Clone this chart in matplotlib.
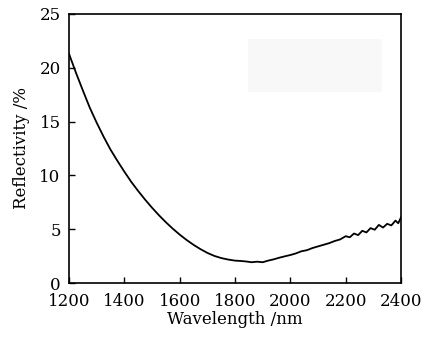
import matplotlib
matplotlib.use("Agg")
import matplotlib.pyplot as plt
from matplotlib.patches import Rectangle

# reflectivity spectrum
wavelength = [1200, 1225, 1250, 1275, 1300, 1325, 1350, 1375, 1400, 1425,
              1450, 1475, 1500, 1525, 1550, 1575, 1600, 1625, 1650, 1675,
              1700, 1725, 1750, 1775, 1800, 1820, 1840, 1860, 1880, 1900,
              1920, 1940, 1960, 1980, 2000, 2020, 2040, 2060, 2080, 2100,
              2120, 2140, 2160, 2180, 2200, 2215, 2230, 2245, 2260, 2275,
              2290, 2305, 2320, 2335, 2350, 2365, 2380, 2390, 2400]
reflectivity = [21.3, 19.55, 17.9, 16.3, 14.9, 13.6, 12.4, 11.35, 10.35, 9.4,
                8.55, 7.75, 7.0, 6.3, 5.65, 5.05, 4.5, 4.0, 3.55, 3.15,
                2.8, 2.52, 2.32, 2.18, 2.08, 2.05, 2.0, 1.93, 1.98, 1.93,
                2.08, 2.2, 2.35, 2.48, 2.6, 2.75, 2.95, 3.05, 3.25, 3.4,
                3.55, 3.7, 3.9, 4.05, 4.35, 4.25, 4.6, 4.45, 4.85, 4.7,
                5.1, 4.95, 5.4, 5.15, 5.5, 5.35, 5.8, 5.55, 6.1]

plt.rcParams["font.family"] = ["DejaVu Serif"]
plt.rcParams["font.size"] = 12

fig = plt.figure(figsize=(4.35, 3.38), dpi=100)
ax = fig.add_axes([69 / 435, 1 - 283 / 338, 332 / 435, 269 / 338])

ax.plot(wavelength, reflectivity, color="black", linewidth=1.3)

# faint empty legend box
ax.add_patch(Rectangle((0.539, 0.711), 0.404, 0.195, transform=ax.transAxes,
                       facecolor="#f8f8f8", edgecolor="none"))

ax.set_xlim(1200, 2400)
ax.set_ylim(0, 25)
ax.set_xticks(range(1200, 2401, 200))
ax.set_yticks(range(0, 26, 5))
ax.tick_params(direction="in", length=4, width=1.0, top=False, right=False,
               labelsize=12)
ax.tick_params(axis="x", pad=7)
ax.tick_params(axis="y", pad=6)
for sp in ax.spines.values():
    sp.set_linewidth(1.2)

ax.set_xlabel("Wavelength /nm", labelpad=1)
ax.set_ylabel("Reflectivity /%", labelpad=7)

fig.savefig("out.png", dpi=100)
